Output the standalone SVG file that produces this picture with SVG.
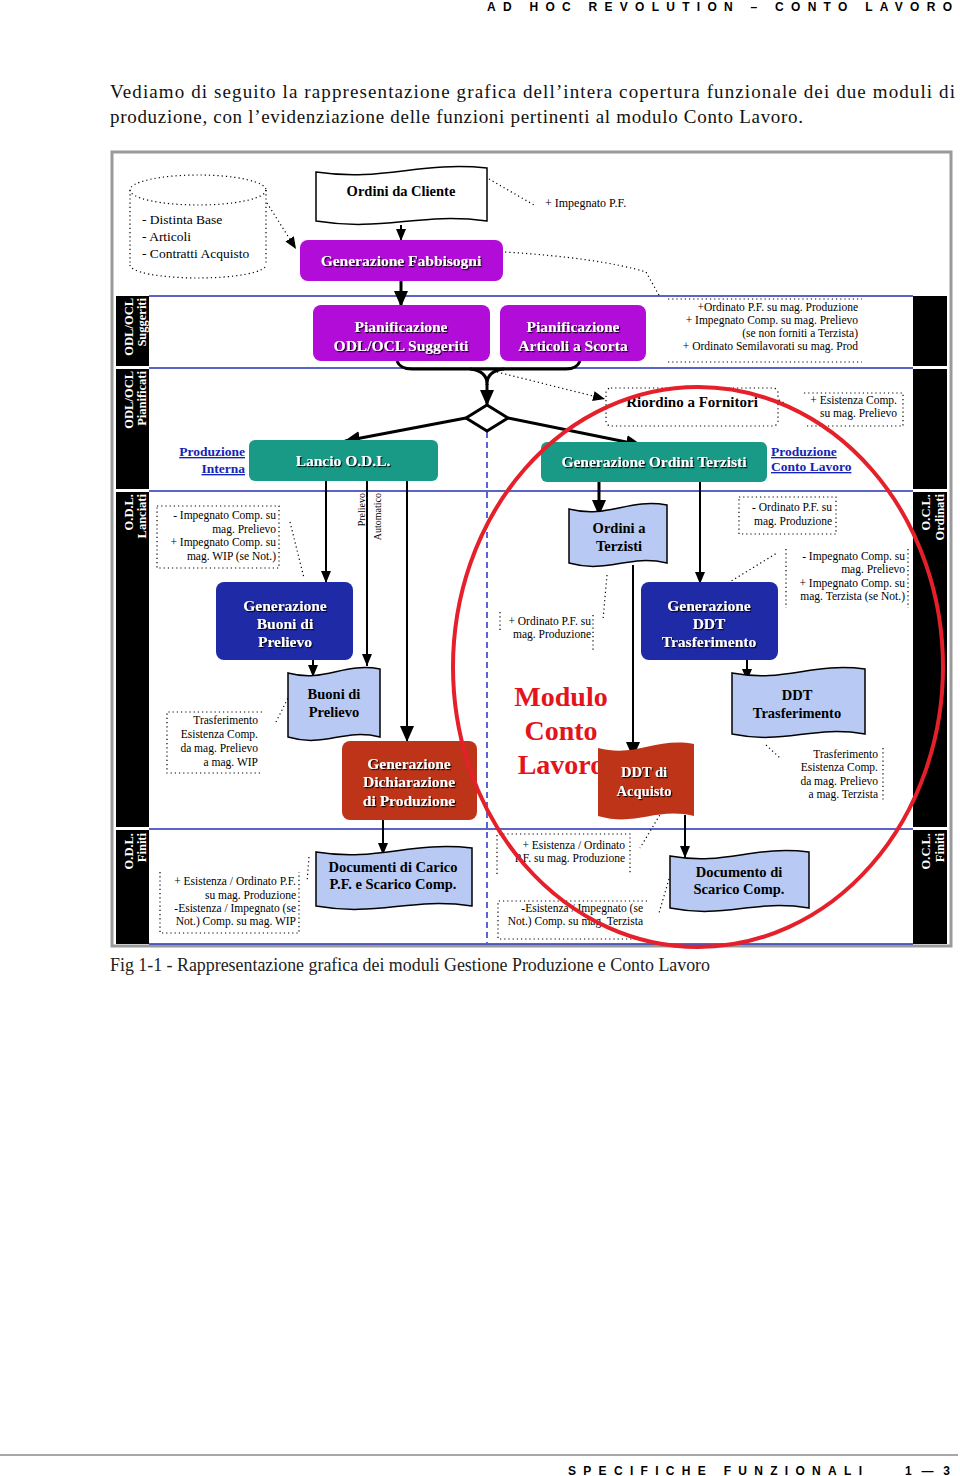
<svg xmlns="http://www.w3.org/2000/svg" width="960" height="1476" viewBox="0 0 960 1476">
<defs>
<style>
.hd{font-family:"Liberation Sans",Arial,sans-serif;font-weight:bold;font-size:12px;fill:#000}
.par{font-family:"Liberation Serif","Times New Roman",serif;font-size:19px;fill:#111}
.cap{font-family:"Liberation Serif","Times New Roman",serif;font-size:18px;fill:#222}
.band{fill:#000}
.blue{stroke:#2430b0;stroke-width:1.5;fill:none}
.lt{font-family:"Liberation Serif",serif;font-weight:bold;font-size:12.5px;fill:#fff;text-anchor:end}
.bx{font-family:"Liberation Serif",serif;font-weight:bold;font-size:15.5px;fill:#fff;text-anchor:middle;filter:url(#sh)}
.dk{font-family:"Liberation Serif",serif;font-weight:bold;font-size:14.5px;fill:#000;text-anchor:middle}
.nt{font-family:"Liberation Serif",serif;font-size:11.5px;fill:#000;text-anchor:end}
.lnk{font-family:"Liberation Serif",serif;font-weight:bold;font-size:13.5px;fill:#1424b4;text-decoration:underline}
.mag{fill:#b20cd8}
.teal{fill:#189a86}
.navy{fill:#1e2aa6}
.red{fill:#be3419}
.doc{fill:#b8c9f4;stroke:#000;stroke-width:1.5}
.th{stroke:#000;stroke-width:3;fill:none}
.tn{stroke:#000;stroke-width:2;fill:none}
.dot{stroke:#000;stroke-width:1.2;stroke-dasharray:1.2 3;fill:none}
.mod{font-family:"Liberation Serif",serif;font-weight:bold;font-size:28px;fill:#e3141c;text-anchor:middle}
</style>
<filter id="sh" x="-10%" y="-30%" width="120%" height="160%"><feDropShadow dx="1.2" dy="1.2" stdDeviation="0.3" flood-color="#000" flood-opacity="0.9"/></filter>
<marker id="ab" markerUnits="userSpaceOnUse" markerWidth="16" markerHeight="14" refX="15" refY="7" orient="auto"><path d="M0,0 L16,7 L0,14 Z" fill="#000"/></marker>
<marker id="as" markerUnits="userSpaceOnUse" markerWidth="12" markerHeight="10" refX="12" refY="5" orient="auto"><path d="M0,0 L12,5 L0,10 Z" fill="#000"/></marker>
</defs>

<rect width="960" height="1476" fill="#fff"/>

<!-- page header / text -->
<text class="hd" x="487" y="11" textLength="465" lengthAdjust="spacing">AD HOC REVOLUTION – CONTO LAVORO</text>
<text class="par" x="110" y="98" textLength="845" lengthAdjust="spacing">Vediamo di seguito la rappresentazione grafica dell’intera copertura funzionale dei due moduli di</text>
<text class="par" x="110" y="123" textLength="693" lengthAdjust="spacing">produzione, con l’evidenziazione delle funzioni pertinenti al modulo Conto Lavoro.</text>

<!-- frame -->
<rect x="112" y="152" width="839" height="794" fill="#fff" stroke="#9a9a9a" stroke-width="3"/>

<!-- lanes -->
<g id="lanes">
<line class="blue" x1="149" y1="296" x2="913" y2="296"/>
<line class="blue" x1="149" y1="368" x2="913" y2="368"/>
<line class="blue" x1="149" y1="491" x2="913" y2="491"/>
<line class="blue" x1="149" y1="829" x2="913" y2="829"/>
<line class="blue" x1="149" y1="944" x2="913" y2="944"/>
<rect class="band" x="116" y="296" width="33" height="70"/>
<rect class="band" x="116" y="369" width="33" height="120"/>
<rect class="band" x="116" y="492" width="33" height="335"/>
<rect class="band" x="116" y="830" width="33" height="114"/>
<rect class="band" x="913" y="296" width="34" height="70"/>
<rect class="band" x="913" y="369" width="34" height="120"/>
<rect class="band" x="913" y="492" width="34" height="335"/>
<rect class="band" x="913" y="830" width="34" height="114"/>
<text class="lt" transform="translate(133,298) rotate(-90)">ODL/OCL</text>
<text class="lt" transform="translate(146,298) rotate(-90)">Suggeriti</text>
<text class="lt" transform="translate(133,371) rotate(-90)">ODL/OCL</text>
<text class="lt" transform="translate(146,371) rotate(-90)">Pianificati</text>
<text class="lt" transform="translate(133,494) rotate(-90)">O.D.L.</text>
<text class="lt" transform="translate(146,494) rotate(-90)">Lanciati</text>
<text class="lt" transform="translate(133,833) rotate(-90)">O.D.L.</text>
<text class="lt" transform="translate(146,833) rotate(-90)">Finiti</text>
<text class="lt" transform="translate(930,494) rotate(-90)">O.C.L.</text>
<text class="lt" transform="translate(944,494) rotate(-90)">Ordinati</text>
<text class="lt" transform="translate(930,833) rotate(-90)">O.C.L.</text>
<text class="lt" transform="translate(944,833) rotate(-90)">Finiti</text>
<line x1="487" y1="432" x2="487" y2="943" stroke="#2430d0" stroke-width="1.5" stroke-dasharray="6 4"/>
</g>

<!-- connectors -->
<g id="connectors">
<path class="dot" d="M267,203 L296,249" marker-end="url(#as)"/>
<path class="tn" d="M401,225 L401,241" marker-end="url(#as)"/>
<path class="dot" d="M489,179 L534,205"/>
<path class="dot" d="M505,252 Q600,258 646,272 L660,297"/>
<path class="th" d="M401,281 L401,306" marker-end="url(#ab)"/>
<path class="th" d="M397,361 Q400,369 412,369 L566,369 Q577,369 580,361"/>
<path class="th" d="M470,369 Q487,371 487,384 M504,369 Q487,371 487,384 L487,385"/>
<path class="th" d="M487,384 L487,405" marker-end="url(#ab)"/>
<path class="dot" d="M497,372 L605,399" marker-end="url(#as)"/>
<path class="th" d="M466,418 L345,441" marker-end="url(#ab)"/>
<path class="th" d="M508,418 L641,445" marker-end="url(#ab)"/>
<path class="dot" d="M779,400 L793,408"/>
<path class="tn" d="M326,481 L326,583" marker-end="url(#as)"/>
<path class="tn" d="M367,481 L367,666" marker-end="url(#as)"/>
<path class="tn" d="M407,481 L407,741" marker-end="url(#ab)"/>
<path class="tn" d="M313,660 L313,677" marker-end="url(#as)"/>
<path class="dot" d="M290,522 L304,578"/>
<path class="dot" d="M276,722 L288,698"/>
<path class="tn" d="M383,820 L383,855" marker-end="url(#as)"/>
<path class="dot" d="M309,857 L307,882"/>
<path class="th" d="M599,482 L599,515" marker-end="url(#ab)"/>
<path class="tn" d="M700,482 L700,584" marker-end="url(#as)"/>
<path class="tn" d="M633,565 L633,757" marker-end="url(#ab)"/>
<path class="dot" d="M607,575 L603,620"/>
<path class="dot" d="M728,583 L777,553"/>
<path class="tn" d="M747,660 L747,681" marker-end="url(#as)"/>
<path class="dot" d="M766,745 L780,758"/>
<path class="tn" d="M685,815 L685,858" marker-end="url(#as)"/>
<path class="dot" d="M664,808 L640,848"/>
<path class="dot" d="M669,879 L659,913"/>
</g>

<!-- nodes -->
<g id="anagrafiche">
<ellipse class="dot" cx="198" cy="190" rx="68" ry="15"/>
<path class="dot" d="M130,190 L130,265 M266,190 L266,265 M130,265 A68,13 0 0 0 266,265"/>
<text class="nt" style="text-anchor:start;font-size:13.5px" x="142"><tspan x="142" y="224">- Distinta Base</tspan><tspan x="142" y="241">- Articoli</tspan><tspan x="142" y="258">- Contratti Acquisto</tspan></text>
</g>

<g id="ordini-cliente">
<path d="M316,172 C384,182 419,161 487,168 L487,221 C419,212 384,232 316,221 Z" fill="#fff" stroke="#000" stroke-width="1.5"/>
<text class="dk" x="401" y="196">Ordini da Cliente</text>
</g>
<g id="note-impegnato-pf">
<text class="nt" style="text-anchor:start;font-size:12px" x="545" y="207">+ Impegnato P.F.</text>
</g>

<g id="generazione-fabbisogni">
<rect class="mag" x="300" y="240" width="203" height="41" rx="8"/>
<text class="bx" x="401" y="266">Generazione Fabbisogni</text>
</g>

<g id="pianificazione-odl">
<rect class="mag" x="313" y="305" width="177" height="56" rx="8"/>
<text class="bx" x="401"><tspan x="401" y="332">Pianificazione</tspan><tspan x="401" y="351">ODL/OCL Suggeriti</tspan></text>
</g>

<g id="pianificazione-scorta">
<rect class="mag" x="500" y="305" width="146" height="56" rx="8"/>
<text class="bx" x="573"><tspan x="573" y="332">Pianificazione</tspan><tspan x="573" y="351">Articoli a Scorta</tspan></text>
</g>

<g id="note-fabbisogni">
<path class="dot" d="M668,299 L862,299 M668,362 L862,362"/>
<text class="nt" x="858"><tspan x="858" y="311">+Ordinato P.F. su mag. Produzione</tspan><tspan x="858" y="324">+ Impegnato Comp. su mag. Prelievo</tspan><tspan x="858" y="337">(se non forniti a Terzista)</tspan><tspan x="858" y="350">+ Ordinato Semilavorati su mag. Prod</tspan></text>
</g>

<g id="decisione">
<path d="M487,405 L508,418 L487,431 L466,418 Z" fill="#fff" stroke="#000" stroke-width="3"/>
</g>

<g id="riordino-fornitori">
<rect class="dot" x="606" y="388" width="172" height="38" rx="5"/>
<text class="dk" style="font-size:15px" x="692" y="407">Riordino a Fornitori</text>
</g>
<g id="note-riordino">
<path class="dot" d="M804,393 L903,393 L903,426 L804,426"/>
<text class="nt" x="897"><tspan x="897" y="404">+ Esistenza Comp.</tspan><tspan x="897" y="417">su mag. Prelievo</tspan></text>
</g>

<g id="lancio-odl">
<rect class="teal" x="249" y="440" width="189" height="41" rx="6"/>
<text class="bx" x="343" y="466">Lancio O.D.L.</text>
<text class="lnk" style="text-anchor:end" x="245"><tspan x="245" y="456">Produzione</tspan><tspan x="245" y="473">Interna</tspan></text>
</g>

<g id="generazione-ordini-terzisti">
<rect class="teal" x="541" y="442" width="226" height="40" rx="6"/>
<text class="bx" x="654" y="467">Generazione Ordini Terzisti</text>
<text class="lnk" x="771"><tspan x="771" y="456">Produzione</tspan><tspan x="771" y="471">Conto Lavoro</tspan></text>
</g>

<g id="note-prelievo-automatico">
<text class="nt" style="font-size:10px" transform="translate(365,493) rotate(-90)">Prelievo</text>
<text class="nt" style="font-size:10px" transform="translate(381,493) rotate(-90)">Automatico</text>
</g>

<g id="note-lancio">
<rect class="dot" x="157" y="506" width="122" height="62"/>
<text class="nt" x="276"><tspan x="276" y="519">- Impegnato Comp. su</tspan><tspan x="276" y="533">mag. Prelievo</tspan><tspan x="276" y="546">+ Impegnato Comp. su</tspan><tspan x="276" y="560">mag. WIP (se Not.)</tspan></text>
</g>

<g id="generazione-buoni">
<rect class="navy" x="216" y="582" width="137" height="78" rx="8"/>
<text class="bx" x="285"><tspan x="285" y="611">Generazione</tspan><tspan x="285" y="629">Buoni di</tspan><tspan x="285" y="647">Prelievo</tspan></text>
</g>

<g id="buoni-prelievo">
<path class="doc" d="M288,673 C325,683 343,662 380,669 L380,737 C343,728 325,748 288,737 Z"/>
<text class="dk" x="334"><tspan x="334" y="699">Buoni di</tspan><tspan x="334" y="717">Prelievo</tspan></text>
</g>

<g id="note-trasferimento-wip">
<path class="dot" d="M262,712 L167,712 L167,773 L262,773"/>
<text class="nt" x="258"><tspan x="258" y="724">Trasferimento</tspan><tspan x="258" y="738">Esistenza Comp.</tspan><tspan x="258" y="752">da mag. Prelievo</tspan><tspan x="258" y="766">a mag. WIP</tspan></text>
</g>

<g id="generazione-dichiarazione">
<rect class="red" x="342" y="741" width="135" height="79" rx="8"/>
<text class="bx" x="409"><tspan x="409" y="769">Generazione</tspan><tspan x="409" y="787">Dichiarazione</tspan><tspan x="409" y="806">di Produzione</tspan></text>
</g>

<g id="documenti-carico">
<path class="doc" d="M316,852 C378,862 410,841 472,848 L472,906 C410,897 378,917 316,906 Z"/>
<text class="dk" x="393"><tspan x="393" y="872">Documenti di Carico</tspan><tspan x="393" y="889">P.F. e Scarico Comp.</tspan></text>
</g>

<g id="note-odl-finiti">
<path class="dot" d="M160,872 L160,933 L299,933 L299,872"/>
<text class="nt" x="296"><tspan x="296" y="885">+ Esistenza / Ordinato P.F.</tspan><tspan x="296" y="899">su mag. Produzione</tspan><tspan x="296" y="912">-Esistenza / Impegnato (se</tspan><tspan x="296" y="925">Not.) Comp. su mag. WIP</tspan></text>
</g>

<g id="ordini-terzisti">
<path class="doc" d="M569,509 C608,519 628,498 667,505 L667,563 C628,554 608,574 569,563 Z"/>
<text class="dk" x="619"><tspan x="619" y="533">Ordini a</tspan><tspan x="619" y="551">Terzisti</tspan></text>
</g>

<g id="note-ordinato-ocl">
<rect class="dot" x="739" y="497" width="97" height="37"/>
<text class="nt" x="832"><tspan x="832" y="511">- Ordinato P.F. su</tspan><tspan x="832" y="525">mag. Produzione</tspan></text>
</g>

<g id="note-ordinato-terzisti">
<path class="dot" d="M500,612 L500,630 M593,615 L593,652"/>
<text class="nt" x="591"><tspan x="591" y="625">+ Ordinato P.F. su</tspan><tspan x="591" y="638">mag. Produzione</tspan></text>
</g>

<g id="generazione-ddt">
<rect class="navy" x="641" y="582" width="137" height="78" rx="8"/>
<text class="bx" x="709"><tspan x="709" y="611">Generazione</tspan><tspan x="709" y="629">DDT</tspan><tspan x="709" y="647">Trasferimento</tspan></text>
</g>

<g id="note-ddt">
<path class="dot" d="M786,549 L786,608 M908,549 L908,608"/>
<text class="nt" x="905"><tspan x="905" y="560">- Impegnato Comp. su</tspan><tspan x="905" y="573">mag. Prelievo</tspan><tspan x="905" y="587">+ Impegnato Comp. su</tspan><tspan x="905" y="600">mag. Terzista (se Not.)</tspan></text>
</g>

<g id="ddt-trasferimento">
<path class="doc" d="M732,673 C785,683 812,662 865,669 L865,734 C812,725 785,745 732,734 Z"/>
<text class="dk" x="797"><tspan x="797" y="700">DDT</tspan><tspan x="797" y="718">Trasferimento</tspan></text>
</g>

<g id="note-trasferimento-terzista">
<path class="dot" d="M883,748 L883,802"/>
<text class="nt" x="878"><tspan x="878" y="758">Trasferimento</tspan><tspan x="878" y="771">Esistenza Comp.</tspan><tspan x="878" y="785">da mag. Prelievo</tspan><tspan x="878" y="798">a mag. Terzista</tspan></text>
</g>

<g id="modulo-conto-lavoro">
<text class="mod" x="561"><tspan x="561" y="706">Modulo</tspan><tspan x="561" y="740">Conto</tspan><tspan x="561" y="774">Lavoro</tspan></text>
</g>

<g id="ddt-acquisto">
<path class="red" d="M598,748 C636,758 656,737 694,744 L694,816 C656,807 636,827 598,816 Z"/>
<text class="bx" style="font-size:14.5px" x="644"><tspan x="644" y="777">DDT di</tspan><tspan x="644" y="796">Acquisto</tspan></text>
</g>

<g id="note-esistenza-ocl">
<path class="dot" d="M497,874 L497,834 L630,834 L630,874"/>
<text class="nt" x="625"><tspan x="625" y="849">+ Esistenza / Ordinato</tspan><tspan x="625" y="862">P.F. su mag. Produzione</tspan></text>
</g>

<g id="note-esistenza-terzista">
<path class="dot" d="M647,901 L498,901 L498,939 L647,939"/>
<text class="nt" x="643"><tspan x="643" y="912">-Esistenza / Impegnato (se</tspan><tspan x="643" y="925">Not.) Comp. su mag. Terzista</tspan></text>
</g>

<g id="documento-scarico">
<path class="doc" d="M670,856 C726,866 753,845 809,852 L809,908 C753,899 726,919 670,908 Z"/>
<text class="dk" x="739"><tspan x="739" y="877">Documento di</tspan><tspan x="739" y="894">Scarico Comp.</tspan></text>
</g>

<g id="evidenziazione">
<ellipse cx="698" cy="667" rx="245" ry="280" fill="none" stroke="#e5202a" stroke-width="4"/>
</g>

<text class="cap" x="110" y="971" textLength="600" lengthAdjust="spacingAndGlyphs">Fig 1-1 - Rappresentazione grafica dei moduli Gestione Produzione e Conto Lavoro</text>

<line x1="0" y1="1455" x2="958" y2="1455" stroke="#8a8a8a" stroke-width="1.5"/>
<text class="hd" x="568" y="1475" textLength="294" lengthAdjust="spacing">SPECIFICHE FUNZIONALI</text>
<text class="hd" x="905" y="1475" textLength="45" lengthAdjust="spacing">1 — 3</text>
</svg>
